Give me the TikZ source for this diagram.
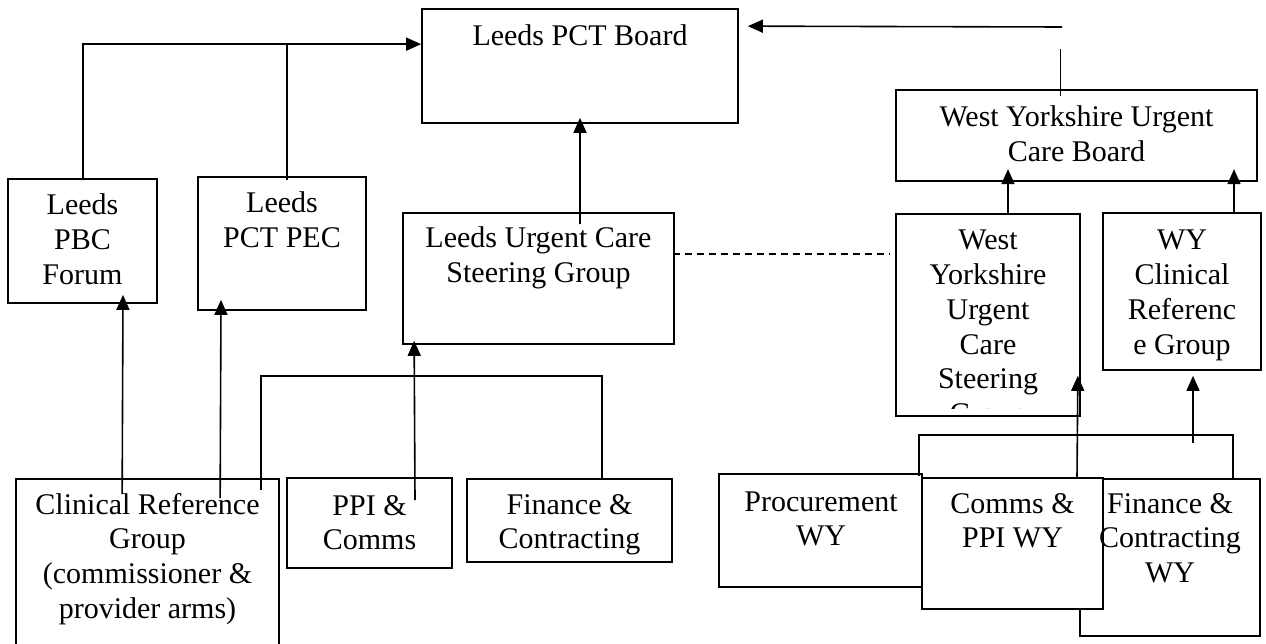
\documentclass[tikz,border=0pt]{standalone}
\usepackage{fontspec}
\setmainfont{Liberation Serif}
\usetikzlibrary{arrows.meta,calc}
\newcommand\stk[1]{\begin{tabular}[t]{@{}c@{}}#1\end{tabular}}
\newcommand\mybox[5]{\node[box, minimum width={(#4)-(#2)}, minimum height={(#5)-(#3)}] (#1) at ({((#2)+(#4))/2},{((#3)+(#5))/2}) {};}
\newcommand\mytxt[4]{\node[txt] (#1) at (#2,#3) {\stk{#4}};}
\begin{document}
\begin{tikzpicture}[x=1pt,y=-1pt,
  box/.style={draw, line width=1.7pt, fill=white, inner sep=0pt, rectangle},
  txt/.style={anchor=base, inner sep=0pt, font=\fontsize{30}{34.7}\selectfont},
  conn/.style={line width=1.6pt},
  arr/.style={line width=1.6pt, -{Triangle[length=15pt,width=13pt]}},
  dsh/.style={line width=1.6pt, dash pattern=on 7pt off 5pt}]
\useasboundingbox[fill=white] (0,0) rectangle (1266,644);

% boxes
\mybox{board}{422}{9}{738}{123}
\mybox{pbc}{8}{179}{157}{303}
\mybox{pec}{198}{177}{366}{310}
\mybox{lucsg}{403}{213}{674}{344}
\mybox{wyb}{896}{90}{1257}{181}
\mybox{wysg}{896}{214}{1080}{416}
\mybox{wycrg}{1103}{213}{1261}{370}
\mybox{crg}{16}{479}{279}{700}
\mybox{ppi}{287}{478}{452}{568}
\mybox{fin}{467}{479}{672}{562}
\mybox{proc}{719}{474}{922}{587}
\mybox{finwy}{1080}{479}{1260}{636}
\mybox{cppi}{922}{478}{1103}{609}

% texts
\mytxt{tboard}{580}{46}{Leeds PCT Board}
\mytxt{tpbc}{82.5}{215}{Leeds\\PBC\\Forum}
\mytxt{tpec}{282}{213}{Leeds\\PCT PEC}
\mytxt{tlucsg}{538.5}{248}{Leeds Urgent Care\\Steering Group}
\mytxt{twyb}{1076.5}{127}{West Yorkshire Urgent\\Care Board}
\begin{scope}
\clip (896,214) rectangle (1080,408);
\mytxt{twysg}{988}{250}{West\\Yorkshire\\Urgent\\Care\\Steering\\Group}
\end{scope}
\mytxt{twycrg}{1182}{250}{WY\\Clinical\\Referenc\\e Group}
\mytxt{tcrg}{147.5}{514}{Clinical Reference\\Group\\(commissioner \&\\provider arms)}
\mytxt{tppi}{369.5}{515}{PPI \&\\Comms}
\begin{scope}
\clip (467,479) rectangle (672,554);
\mytxt{tfin}{569.5}{514}{Finance \&\\Contracting}
\end{scope}
\mytxt{tproc}{821}{511}{Procurement\\WY}
\mytxt{tcppi}{1012.5}{513}{Comms \&\\PPI WY}
\mytxt{tfinwy}{1170}{513}{Finance \&\\Contracting\\WY}

% connectors
\coordinate (j1) at (287,45);
\draw[arr] ($(pbc.north)+(0.5,1)$) |- ($(board.north west)+(0,36)$);
\draw[conn] ([xshift=5pt,yshift=-4pt]pec.north) -- (j1);
\draw[arr] ($(lucsg.north)+(41.5,12)$) -- ($(board.south)+(0,-6)$);
\draw[dsh] ($(lucsg.north east)+(-2,42)$) -- ($(wysg.north west)+(-6,41)$);
\coordinate (c1) at (1062,27);
\draw[arr] (c1) -- ($(board.north east)+(9,18)$);
\draw[conn] ($(wyb.north)+(-16,7)$) -- ++(0,-47);
\draw[arr] ($(wysg.north)+(20,0)$) -- ++(0,-44);
\draw[arr] ($(wycrg.north)+(52,0)$) -- ++(0,-43);
\draw[arr] ($(crg.north west)+(107,16)$) -- ($(pbc.south)+(40.5,-9)$);
\draw[arr] ($(crg.north west)+(205,20)$) -- ($(pec.south)+(-61,-11)$);
\draw[conn] ($(crg.north west)+(246,12)$) |- ($(fin.north west)+(136,-102)$) -- ($(fin.north west)+(136,0)$);
\draw[arr] ($(ppi.north)+(45.5,23)$) -- ($(lucsg.south west)+(12,-4)$);
\draw[conn] ($(proc.north east)+(-4,3)$) |- ($(finwy.north west)+(154,-43)$) -- ($(finwy.north west)+(154,0)$);
\draw[arr] ($(cppi.north)+(64.5,0)$) -- ($(wysg.south east)+(-3,-41)$);
\draw[arr] ($(wycrg.south)+(11,72)$) -- ($(wycrg.south)+(11,5)$);
\end{tikzpicture}
\end{document}
